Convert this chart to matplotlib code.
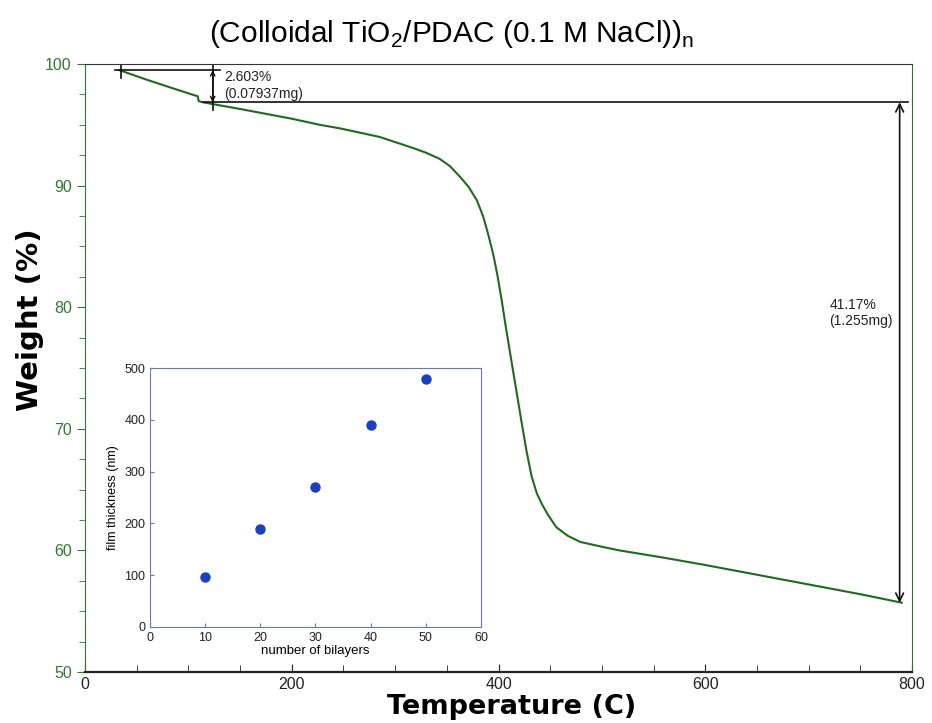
import numpy as np
import matplotlib
matplotlib.use("Agg")
import matplotlib.pyplot as plt

plt.rcParams['font.family'] = ['Liberation Sans', 'DejaVu Sans']

# TGA curve
temp = [33, 60, 85, 105, 109, 110, 114, 150, 200, 227, 247, 285, 317, 330, 343,
        353, 363, 371, 379, 385, 390, 395, 399, 403, 407, 414, 422, 427, 432, 437,
        442, 448, 456, 467, 479, 500, 517, 560, 600, 650, 700, 750, 790]
weight = [99.5, 98.7, 98.0, 97.45, 97.35, 96.95, 96.85, 96.3, 95.5, 95.0, 94.7,
          94.0, 93.1, 92.7, 92.2, 91.6, 90.7, 89.9, 88.8, 87.5, 86.0, 84.3, 82.6,
          80.6, 78.4, 74.8, 70.7, 68.2, 66.1, 64.7, 63.8, 62.9, 61.9, 61.2, 60.7,
          60.3, 60.0, 59.4, 58.8, 58.0, 57.2, 56.4, 55.7]

# inset: film thickness vs bilayers
bilayers = [10, 20, 30, 40, 50]
thickness = [97, 190, 270, 390, 480]

step1_label = "2.603%\n(0.07937mg)"
step2_label = "41.17%\n(1.255mg)"

green = '#2f7a2f'
line_green = '#1f6a1f'

fig = plt.figure(figsize=(9.32, 7.23), dpi=100)
ax = fig.add_axes([0.0912, 0.0705, 0.8874, 0.841])

ax.plot(temp, weight, color=line_green, lw=1.5)
ax.set_xlim(0, 800)
ax.set_ylim(50, 100)

ax.set_xticks([0, 200, 400, 600, 800])
ax.set_xticks(np.arange(0, 801, 50), minor=True)
ax.set_yticks([50, 60, 70, 80, 90, 100])
ax.set_yticks(np.arange(50, 100.1, 2.5), minor=True)
ax.tick_params(axis='x', which='both', direction='in', colors='#222222', labelsize=11.5)
ax.tick_params(axis='x', which='major', length=6)
ax.tick_params(axis='x', which='minor', length=5)
ax.tick_params(axis='y', which='both', direction='out', colors=green, labelsize=11.5)
ax.tick_params(axis='y', which='major', length=6)
ax.tick_params(axis='y', which='minor', length=4)
ax.spines['left'].set_color(green)
ax.spines['right'].set_color(green)
ax.spines['top'].set_color('#333333')
ax.spines['bottom'].set_color('#222222')
ax.spines['bottom'].set_linewidth(1.6)

ax.set_xlabel('Temperature (C)', fontsize=19.5, fontweight='bold',
              family='DejaVu Sans')
ax.xaxis.set_label_coords(0.516, -0.036)
ax.set_ylabel('Weight (%)', fontsize=21, fontweight='bold',
              family='DejaVu Sans')
ax.yaxis.set_label_coords(-0.05, 0.58)
fig.text(0.485, 0.953, r'(Colloidal TiO$_\mathregular{2}$/PDAC (0.1 M NaCl))$_\mathregular{n}$',
         fontsize=21.5, ha='center', va='center')

# step annotations
w_start = weight[0]
w_mid = weight[6]
w_end = weight[-1]
k = '#111111'
ax.plot([29, 131], [w_start, w_start], color=k, lw=1.2)
ax.plot([34.5, 34.5], [99.9, 98.85], color=k, lw=1.2)
ax.plot([114, 796], [w_mid, w_mid], color=k, lw=1.2)
ax.plot([123.5, 123.5], [99.9, 96.2], color=k, lw=1.2)
ax.annotate('', xy=(123.5, w_start), xytext=(123.5, w_mid),
            arrowprops=dict(arrowstyle='<->', color=k, lw=1.0,
                            shrinkA=0, shrinkB=0, mutation_scale=8))
ax.annotate('', xy=(788, w_mid), xytext=(788, w_end),
            arrowprops=dict(arrowstyle='<->', color=k, lw=1.2,
                            shrinkA=0, shrinkB=0, mutation_scale=14))
ax.text(134.5, 98.25, step1_label, fontsize=10, color='#222222',
        va='center', ha='left', linespacing=1.25)
ax.text(720, 79.5, step2_label, fontsize=10, color='#222222',
        va='center', ha='left', linespacing=1.2)

# inset
ins = fig.add_axes([0.161, 0.1328, 0.355, 0.358])
ins.plot(bilayers, thickness, 'o', color='#1c3fc0', ms=6.5)
ins.set_xlim(0, 60)
ins.set_ylim(0, 500)
ins.set_xticks(range(0, 61, 10))
ins.set_yticks(range(0, 501, 100))
ins.tick_params(direction='in', labelsize=9, length=3, colors='#6a78b0',
                labelcolor='#222222')
for s in ins.spines.values():
    s.set_color('#6a78b0')
ins.set_xlabel('number of bilayers', fontsize=9.5, labelpad=1)
ins.set_ylabel('film thickness (nm)', fontsize=9, labelpad=4)

fig.savefig('out.png', dpi=100)
